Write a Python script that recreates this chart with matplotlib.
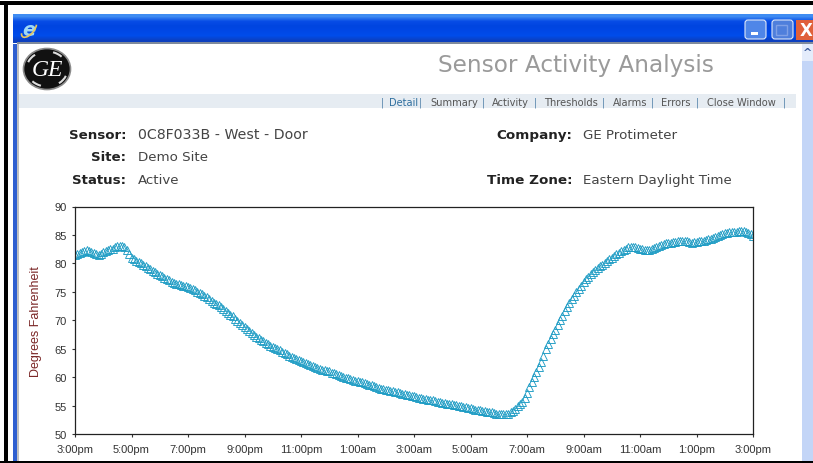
import numpy as np
import matplotlib
matplotlib.use('Agg')
import matplotlib.pyplot as plt
from matplotlib.patches import Rectangle, Ellipse, FancyBboxPatch, Arc

W, H = 813, 464

# Temperature, one reading every 5 minutes from 3:00pm
temps = [
    81.5, 81.7, 81.8, 82.0, 82.2, 82.3, 82.2, 82.0, 81.8, 81.6, 81.5, 81.7,
    82.0, 82.2, 82.4, 82.5, 82.6, 82.8, 83.0, 83.1, 83.1, 82.8, 82.3, 81.7,
    81.0, 80.7, 80.4, 80.2, 80.0, 79.8, 79.5, 79.2, 79.0, 78.7, 78.4, 78.1,
    77.9, 77.7, 77.5, 77.2, 77.0, 76.8, 76.6, 76.4, 76.3, 76.2, 76.1, 76.0,
    75.9, 75.7, 75.5, 75.3, 75.0, 74.8, 74.6, 74.3, 74.1, 73.8, 73.4, 73.1,
    72.8, 72.6, 72.3, 71.9, 71.6, 71.3, 71.0, 70.7, 70.3, 69.9, 69.5, 69.2,
    68.8, 68.4, 68.1, 67.7, 67.4, 67.1, 66.8, 66.5, 66.3, 66.0, 65.8, 65.5,
    65.3, 65.1, 64.9, 64.7, 64.5, 64.3, 64.1, 63.8, 63.6, 63.4, 63.2, 63.0,
    62.8, 62.6, 62.4, 62.3, 62.1, 61.9, 61.8, 61.6, 61.5, 61.3, 61.2, 61.1,
    61.0, 60.8, 60.7, 60.5, 60.4, 60.2, 60.1, 59.9, 59.8, 59.6, 59.5, 59.4,
    59.3, 59.2, 59.1, 58.9, 58.8, 58.7, 58.6, 58.4, 58.3, 58.1, 58.0, 57.9,
    57.8, 57.7, 57.6, 57.5, 57.4, 57.3, 57.2, 57.1, 57.0, 56.9, 56.8, 56.7,
    56.6, 56.5, 56.4, 56.3, 56.2, 56.1, 56.0, 56.0, 55.9, 55.8, 55.7, 55.6,
    55.5, 55.4, 55.3, 55.2, 55.2, 55.1, 55.1, 55.0, 54.9, 54.8, 54.7, 54.6,
    54.5, 54.4, 54.3, 54.2, 54.2, 54.1, 54.0, 53.9, 53.9, 53.8, 53.7, 53.6,
    53.6, 53.5, 53.5, 53.5, 53.6, 53.8, 54.0, 54.4, 54.9, 55.3, 55.7, 56.4,
    57.2, 58.2, 59.2, 60.0, 60.9, 61.8, 62.7, 63.8, 64.9, 65.8, 66.7, 67.5,
    68.3, 69.1, 70.0, 70.8, 71.6, 72.3, 73.0, 73.7, 74.3, 74.9, 75.5, 76.1,
    76.7, 77.2, 77.6, 78.1, 78.5, 78.9, 79.2, 79.5, 79.8, 80.1, 80.4, 80.7,
    81.0, 81.3, 81.6, 81.9, 82.1, 82.4, 82.6, 82.8, 82.9, 82.9, 82.8, 82.7,
    82.6, 82.5, 82.4, 82.3, 82.3, 82.5, 82.7, 82.9, 83.1, 83.3, 83.4, 83.5,
    83.5, 83.6, 83.7, 83.8, 83.9, 84.0, 84.0, 84.0, 83.9, 83.7, 83.6, 83.7,
    83.8, 83.9, 84.0, 84.0, 84.1, 84.2, 84.3, 84.4, 84.6, 84.8, 85.0, 85.2,
    85.3, 85.4, 85.5, 85.5, 85.6, 85.6, 85.7, 85.7, 85.7, 85.5, 85.3, 85.1,
    84.8,
]
minutes = np.arange(len(temps)) * 5

time_labels = ['3:00pm', '5:00pm', '7:00pm', '9:00pm', '11:00pm', '1:00am', '3:00am',
               '5:00am', '7:00am', '9:00am', '11:00am', '1:00pm', '3:00pm']
y_ticks = [50, 55, 60, 65, 70, 75, 80, 85, 90]

nav_items = ['Detail', 'Summary', 'Activity', 'Thresholds', 'Alarms', 'Errors', 'Close Window']
nav_x = [389, 430, 492, 544, 613, 661, 707]
nav_sep = [382, 420, 483, 535, 603, 652, 697, 784]

left_labels = ['Sensor:', 'Site:', 'Status:']
left_values = ['0C8F033B - West - Door', 'Demo Site', 'Active']
left_sizes = [10.2, 9.6, 9.6]
right_labels = ['Company:', 'Time Zone:']
right_values = ['GE Protimeter', 'Eastern Daylight Time']

fig = plt.figure(figsize=(W / 100, H / 100), dpi=100, facecolor='white')

# page furniture is drawn in pixel coordinates on a full-figure axes
bg = fig.add_axes([0, 0, 1, 1])
bg.set_xlim(0, W)
bg.set_ylim(H, 0)
bg.axis('off')

# black screenshot frame
bg.add_patch(Rectangle((0, 2), W, 4, color='black', lw=0))
bg.add_patch(Rectangle((4, 2), 4, H, color='black', lw=0))

# window frame and title bar
bg.add_patch(Rectangle((13, 45), 4, H, color='#2f5fd0', lw=0))
bg.add_patch(Rectangle((17, 45), 2, H, color='#c0c0c0', lw=0))
bar_colors = np.array([[0.25, 0.55, 0.95], [0.03, 0.30, 0.90], [0.0, 0.27, 0.88],
                       [0.0, 0.28, 0.90], [0.0, 0.30, 0.92], [0.05, 0.25, 0.75]])
bg.imshow(bar_colors.reshape(6, 1, 3), extent=(13, W, 44, 15), aspect='auto', interpolation='bilinear', zorder=1)
bg.set_xlim(0, W)
bg.set_ylim(H, 0)
bg.add_patch(Rectangle((17, 43), W, 2, color='#7f8a9c', lw=0, zorder=2))
bg.text(29, 30, 'e', color='#9fd8f5', fontsize=14, style='italic', weight='bold', ha='center', va='center', zorder=3)
bg.add_patch(Arc((29, 30), 20, 10, angle=-50, theta1=20, theta2=200, color='#e8c860', lw=1.2, zorder=4))

# window buttons
for x0, col in [(744, '#4f86e8'), (771, '#4f7fdc')]:
    bg.add_patch(FancyBboxPatch((x0 + 1, 21), 21, 19, boxstyle='round,pad=0,rounding_size=3',
                                fc=col, ec='#dfe8f8', lw=0.8, zorder=3))
bg.add_patch(Rectangle((751, 33), 7, 2.5, color='white', lw=0, zorder=4))
bg.add_patch(Rectangle((776, 26), 11, 10, fc='none', ec='#7fa0e6', lw=1, zorder=4))
bg.add_patch(Rectangle((796, 21), 17, 20, color='#e0603a', lw=0, zorder=3))
bg.text(806, 31, 'X', color='white', fontsize=12, weight='bold', ha='center', va='center', zorder=4)

# scroll bar
bg.add_patch(Rectangle((802, 45), 11, H, color='#c3d5f7', lw=0))
bg.add_patch(Rectangle((802, 45), 11, 17, color='#e4ecfb', lw=0))
bg.text(807.5, 53, '^', color='#3b5b9a', fontsize=8, weight='bold', ha='center', va='center')
bg.add_patch(Rectangle((0, 461.5), W, 2.5, color='black', lw=0))

# logo
bg.add_patch(Ellipse((47, 70), 47, 41, fc='#111111', ec='#8a8a8a', lw=1.2))
for start in [20, 110, 200, 290]:
    bg.add_patch(Arc((47, 70), 41, 35, theta1=start, theta2=start + 30, color='#dddddd', lw=1.5))
bg.text(47, 70, 'GE', color='white', fontsize=17, style='italic', family='Liberation Serif',
        ha='center', va='center')

bg.text(438, 65.5, 'Sensor Activity Analysis', color='#9a9a9a', fontsize=16.7, ha='left', va='center')

# nav strip
bg.add_patch(Rectangle((19, 95), 777, 14, color='#e6ecf2', lw=0))
for i, (label, x) in enumerate(zip(nav_items, nav_x)):
    bg.text(x, 103, label, color='#2f6f9f' if i == 0 else '#555555', fontsize=7.1, ha='left', va='center')
for x in nav_sep:
    bg.text(x, 102.5, '|', color='#4f7fa8', fontsize=7, ha='center', va='center')

# info block
for label, value, size, y in zip(left_labels, left_values, left_sizes, [135.5, 157.5, 180.5]):
    bg.text(126, y, label, color='#222222', fontsize=9.6, weight='bold', ha='right', va='center')
    bg.text(138, y, value, color='#444444', fontsize=size, ha='left', va='center')
for label, value, y in zip(right_labels, right_values, [135.5, 180.5]):
    bg.text(572, y, label, color='#222222', fontsize=9.7, weight='bold', ha='right', va='center')
    bg.text(583, y, value, color='#444444', fontsize=9.6, ha='left', va='center')

# chart
ax = fig.add_axes([75 / W, 1 - 435 / H, (753 - 75) / W, (435 - 207.5) / H])
ax.plot(minutes, temps, linestyle='none', marker='^', markersize=6, markerfacecolor='none',
        markeredgecolor='#1e9cc4', markeredgewidth=0.65)
ax.set_xlim(0, 1440)
ax.set_ylim(50, 90)
ax.set_xticks(np.arange(len(time_labels)) * 120)
ax.set_xticklabels(time_labels, family='Liberation Sans', fontsize=8, color='#333333')
ax.set_yticks(y_ticks)
ax.set_yticklabels(y_ticks, family='Liberation Sans', fontsize=8, color='#333333')
ax.tick_params(axis='x', length=2, width=0.8, color='#333333', pad=5)
ax.tick_params(axis='y', length=2, width=0.8, color='#333333', pad=4)
ax.set_ylabel('Degrees Fahrenheit', family='Liberation Sans', fontsize=9, color='#7a2626')
ax.yaxis.set_label_coords(-33 / 678, 0.5)
for s in ax.spines.values():
    s.set_color('#222222')
    s.set_linewidth(0.9)

fig.savefig('out.png', dpi=100)
